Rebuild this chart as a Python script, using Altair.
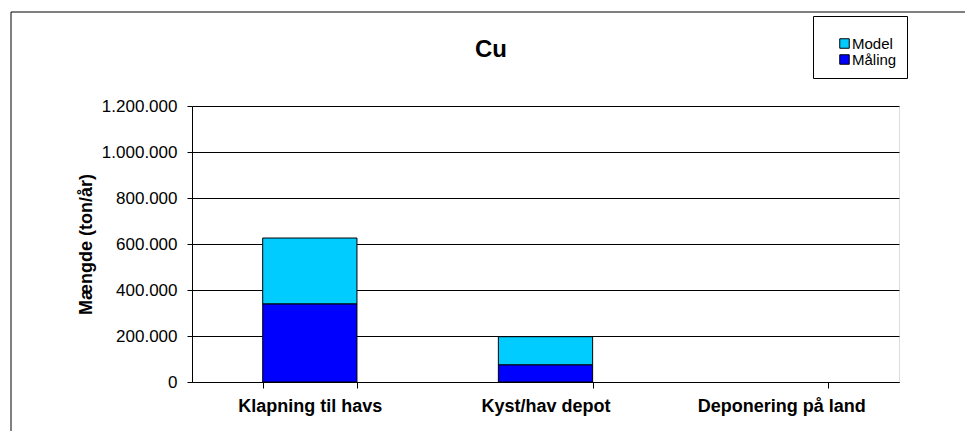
import altair as alt
import pandas as pd

categories = ["Klapning til havs", "Kyst/hav depot", "Deponering på land"]
maaling = [340000, 75000, 0]
model = [286000, 122000, 0]
series = ["Model", "Måling"]
colors = ["#00CCFF", "#0000FF"]
y_ticks = [0, 200000, 400000, 600000, 800000, 1000000, 1200000]
title_text = "Cu"

rows = []
for c, m, mo in zip(categories, maaling, model):
    rows.append({"kategori": c, "serie": "Måling", "vaerdi": m, "ord": 0})
    rows.append({"kategori": c, "serie": "Model", "vaerdi": mo, "ord": 1})
df = pd.DataFrame(rows)

FONT = "Liberation Sans"

bars = alt.Chart(df).transform_filter("datum.vaerdi > 0").mark_bar(
    stroke="black", strokeWidth=1).encode(
    x=alt.X("kategori:N", sort=categories, title=None,
            scale=alt.Scale(domain=categories, paddingInner=0.6, paddingOuter=0.3),
            axis=alt.Axis(labelAngle=0, labelFont=FONT, labelFontSize=18,
                          labelFontWeight="bold", labelColor="black",
                          tickBand="extent", tickSize=6, tickColor="black",
                          domainColor="black", labelPadding=9, grid=False)),
    y=alt.Y("vaerdi:Q", stack="zero", title="Mængde (ton/år)",
            scale=alt.Scale(domain=[0, 1200000], nice=False),
            axis=alt.Axis(values=y_ticks,
                          labelExpr="join(split(format(datum.value, ','), ','), '.')",
                          labelFont=FONT, labelFontSize=17, labelColor="black",
                          titleFont=FONT, titleFontSize=18, titleFontWeight="bold",
                          titleColor="black", titlePadding=6,
                          tickSize=5, tickColor="black", domainColor="black",
                          labelPadding=10, grid=True, gridColor="black",
                          gridOpacity=1, gridWidth=1)),
    color=alt.Color("serie:N", title=" ",
                    scale=alt.Scale(domain=series, range=colors),
                    legend=alt.Legend(orient="none", legendX=621, legendY=-90,
                                      strokeColor="black", padding=10,
                                      titleFontSize=6, titlePadding=4,
                                      symbolType="square", symbolSize=90,
                                      symbolStrokeColor="black", symbolStrokeWidth=1,
                                      symbolOffset=14, labelOffset=0,
                                      labelFont=FONT, labelFontSize=15,
                                      labelColor="black", rowPadding=0)),
    order=alt.Order("ord:Q"),
)

title = alt.Chart(alt.Data(values=[{"t": title_text}])).mark_text(
    font=FONT, fontSize=24, fontWeight="bold", color="black",
    align="center", baseline="alphabetic").encode(
    text="t:N", x=alt.value(299), y=alt.value(-49))

frame_data = alt.Data(values=[{"a": 1}])
left_line = alt.Chart(frame_data).mark_rule(color="black", strokeWidth=1).encode(
    x=alt.value(-181), y=alt.value(-94), y2=alt.value(330))
top_line = alt.Chart(frame_data).mark_rule(color="black", strokeWidth=1).encode(
    x=alt.value(-181), x2=alt.value(780), y=alt.value(-94))

chart = alt.layer(bars, title, left_line, top_line).properties(
    width=707, height=276,
    autosize=alt.AutoSizeParams(type="none"),
    padding={"left": 184, "top": 98, "right": 66, "bottom": 49},
).configure_view(stroke="#808080", strokeWidth=1).configure(background="white")

chart.save("out.html", embed_options={"renderer": "svg", "actions": False})
